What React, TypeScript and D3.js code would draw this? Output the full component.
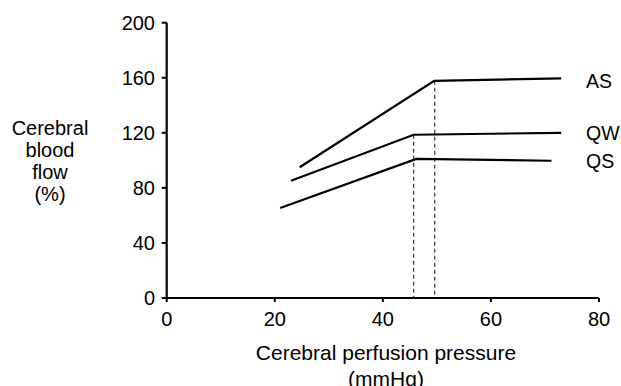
import React from "react";
import * as d3 from "d3";

const xTicks = [0, 20, 40, 60, 80];
const yTicks = [0, 40, 80, 120, 160, 200];
const seriesNames = ["AS", "QW", "QS"];
const asX = [24.6, 49.5, 73.0];
const asY = [95, 157.8, 159.5];
const qwX = [23.0, 45.7, 73.0];
const qwY = [85.2, 118.6, 120.0];
const qsX = [21.0, 46.2, 71.2];
const qsY = [65.4, 101, 99.7];
const dashX = [45.7, 49.6];
const dashTop = [118.6, 157.8];
const yTitle = ["Cerebral", "blood", "flow", "(%)"];
const xTitle = ["Cerebral perfusion pressure", "(mmHg)"];

const W = 621, H = 386;
const FONT = "'Liberation Sans', Arial, sans-serif";
const labelBaselines = [88, 140, 168];

export default function App() {
  const x = d3.scaleLinear().domain([0, 80]).range([166.7, 599]);
  const y = d3.scaleLinear().domain([0, 200]).range([298, 22.7]);
  const line = d3.line<[number, number]>().x(d => x(d[0])).y(d => y(d[1]));
  const series = [
    { xs: asX, ys: asY },
    { xs: qwX, ys: qwY },
    { xs: qsX, ys: qsY },
  ];
  return (
    <svg width={W} height={H} style={{ position: "absolute", left: 0, top: 0, background: "#fff" }}
      fontFamily={FONT}>
      <rect x={0} y={0} width={W} height={H} fill="#fff" />
      {dashX.map((dx, i) => (
        <line key={"d" + i} x1={x(dx)} x2={x(dx)} y1={y(dashTop[i])} y2={y(0)}
          stroke="#333" strokeWidth={1.2} strokeDasharray="4,3" />
      ))}
      {series.map((s, i) => (
        <path key={"s" + i} d={line(s.xs.map((v, j) => [v, s.ys[j]] as [number, number])) || ""}
          fill="none" stroke="#000" strokeWidth={2.2} />
      ))}
      {series.map((s, i) => (
        <text key={"l" + i} x={586} y={labelBaselines[i]} textAnchor="start"
          fontSize={19.5} fill="#000">{seriesNames[i]}</text>
      ))}
      <line x1={x(0)} x2={x(0)} y1={y(200)} y2={y(0)} stroke="#000" strokeWidth={2.2} />
      <line x1={x(0)} x2={x(80)} y1={y(0)} y2={y(0)} stroke="#000" strokeWidth={2.2} />
      {yTicks.map(t => (
        <g key={"yt" + t}>
          <line x1={x(0) - 5} x2={x(0)} y1={y(t)} y2={y(t)} stroke="#000" strokeWidth={2} />
          <text x={155} y={y(t) + 7} textAnchor="end" fontSize={20} fill="#000">{t}</text>
        </g>
      ))}
      {xTicks.map(t => (
        <g key={"xt" + t}>
          <line x1={x(t)} x2={x(t)} y1={y(0)} y2={y(0) + 4} stroke="#000" strokeWidth={2} />
          <text x={x(t)} y={326} textAnchor="middle" fontSize={20} fill="#000">{t}</text>
        </g>
      ))}
      {yTitle.map((s, i) => (
        <text key={"yl" + i} x={50} y={135 + i * 22} textAnchor="middle" fontSize={20} fill="#000">{s}</text>
      ))}
      {xTitle.map((s, i) => (
        <text key={"xl" + i} x={386} y={360 + i * 26} textAnchor="middle" fontSize={21} fill="#000">{s}</text>
      ))}
    </svg>
  );
}
